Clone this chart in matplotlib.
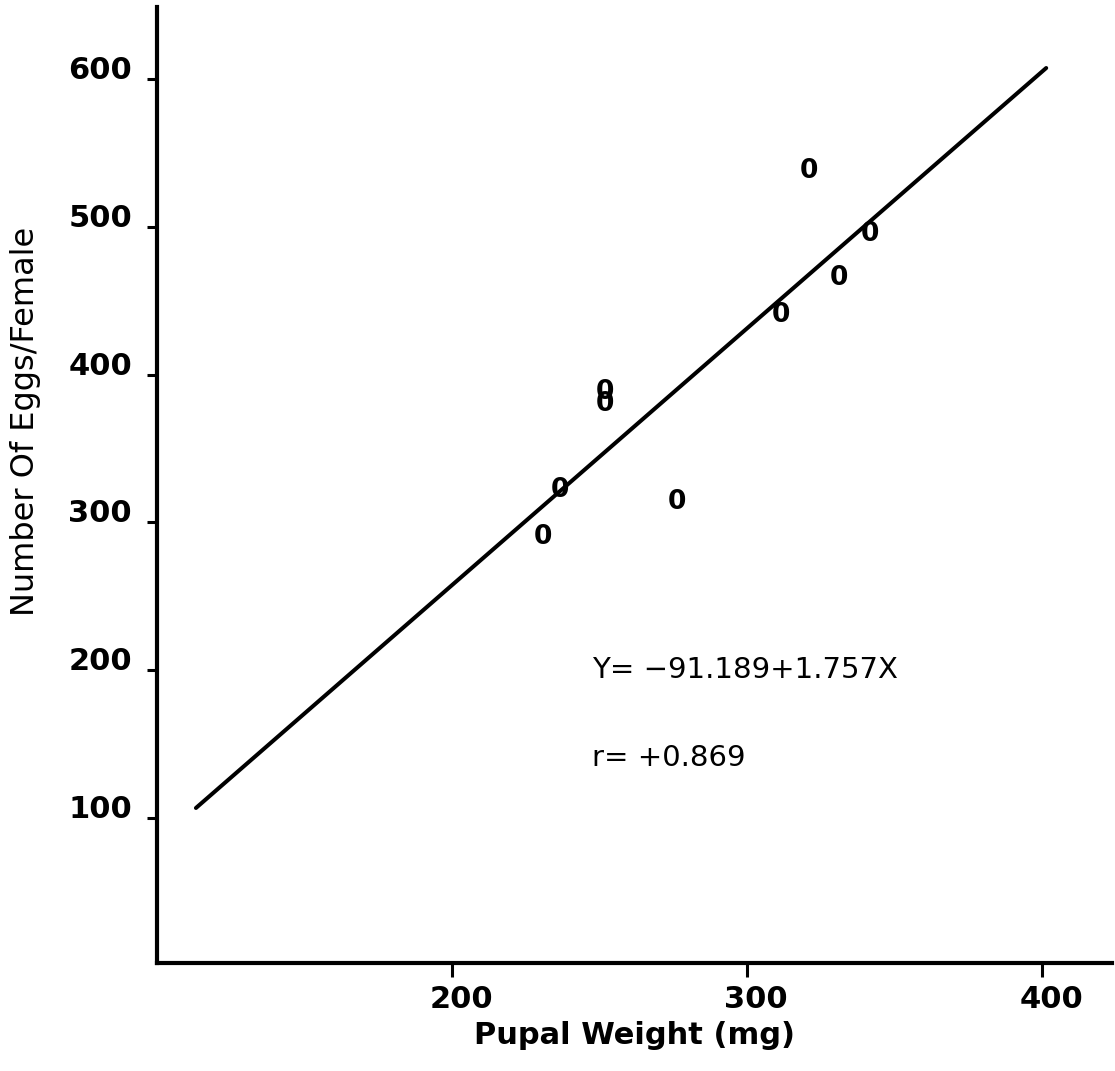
import matplotlib
matplotlib.use('Agg')
import matplotlib.pyplot as plt
import matplotlib.transforms as mtransforms

# data
pupal_weight = [230.8, 236.6, 251.9, 251.9, 276.3, 311.5, 321.0, 331.2, 341.7]
eggs_per_female = [290.1, 321.9, 387.9, 379.8, 313.8, 440.3, 537.8, 465.4, 495.1]

# fitted line as drawn (Y = -91.189 + 1.757X)
line_x = [113.2, 401.4]
line_y = [106.8, 607.4]

x_ticks = [200, 300, 400]
y_ticks = [100, 200, 300, 400, 500, 600]

plt.rcParams['font.family'] = ['DejaVu Sans']

fig = plt.figure(figsize=(11.15, 10.71), dpi=100)
ax = fig.add_axes([0.1408, 0.1008, 0.8565, 0.8927])

ax.set_xlim(100, 423.7)
ax.set_ylim(1.9, 648.7)

ax.plot(line_x, line_y, color='black', lw=2.9, solid_capstyle='round')

for xv, yv in zip(pupal_weight, eggs_per_female):
    ax.text(xv, yv, '0', ha='center', va='center', fontsize=19, fontweight='bold')

ax.text(247.5, 200.1, 'Y= \u221291.189+1.757X', ha='left', va='center', fontsize=21)
ax.text(247.5, 140.6, 'r= +0.869', ha='left', va='center', fontsize=21)

for s in ['top', 'right']:
    ax.spines[s].set_visible(False)
for s in ['left', 'bottom']:
    ax.spines[s].set_linewidth(3)

ax.set_xticks(x_ticks)
ax.set_yticks(y_ticks)
ax.tick_params(axis='x', length=10, width=2.2, pad=6, labelsize=22)
ax.tick_params(axis='y', length=7, width=2.2, pad=11, labelsize=22)

# x labels sit a little right of their ticks in the original
shift = mtransforms.ScaledTranslation(0.09, 0, fig.dpi_scale_trans)
for lab in ax.get_xticklabels():
    lab.set_fontweight('bold')
    lab.set_transform(lab.get_transform() + shift)
for lab in ax.get_yticklabels():
    lab.set_fontweight('bold')
    lab.set_verticalalignment('baseline')

ax.set_xlabel('Pupal Weight (mg)', fontsize=22, fontweight='bold')
ax.xaxis.set_label_coords(0.5, -0.076)
ax.xaxis.label.set_va('center')
ax.set_ylabel('Number Of Eggs/Female', fontsize=23)
ax.yaxis.set_label_coords(-0.138, 0.567)
ax.yaxis.label.set_va('center')

fig.savefig('out.png', dpi=100)
